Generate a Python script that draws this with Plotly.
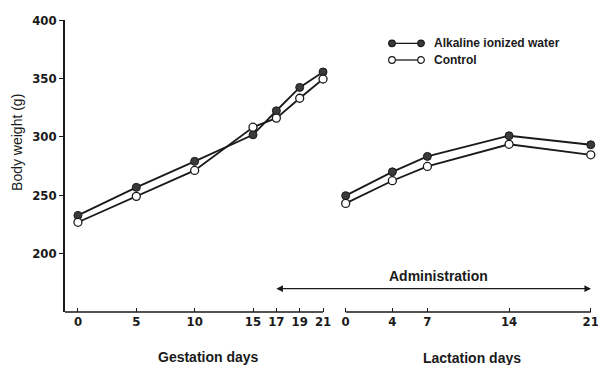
import plotly.graph_objects as go

# ---- data ----
gestation_days = [0, 5, 10, 15, 17, 19, 21]
lactation_days = [0, 4, 7, 14, 21]
alk_gest = [232.7, 256.7, 279.0, 301.7, 322.3, 342.3, 355.5]
ctrl_gest = [226.8, 249.0, 271.2, 308.2, 316.0, 333.0, 349.5]
alk_lact = [249.6, 270.0, 283.2, 300.9, 293.2]
ctrl_lact = [243.0, 262.4, 274.6, 293.6, 284.6]
y_ticks = [200, 250, 300, 350, 400]
series_names = ["Alkaline ionized water", "Control"]

# ---- layout constants ----
LACT_OFFSET = 22.94
X_RANGE = [-1.11, 44.56]
Y_RANGE = [150, 400]
INK = "#1a1a1a"
TICK_FONT = dict(family="DejaVu Sans Condensed, Liberation Sans Narrow, Arial", size=13,
                 color=INK, weight="bold")
TEXT_FONT = dict(family="Liberation Sans, Arial", size=14, color=INK, weight="bold")

lact_x = [d + LACT_OFFSET for d in lactation_days]

fig = go.Figure()

filled = dict(size=8, color="#3a3a3a", line=dict(color=INK, width=1))
opened = dict(size=8, color="white", line=dict(color=INK, width=1.3))
line_style = dict(color=INK, width=1.8)

for xs, ys, mk in [
    (gestation_days, alk_gest, filled),
    (lact_x, alk_lact, filled),
    (gestation_days, ctrl_gest, opened),
    (lact_x, ctrl_lact, opened),
]:
    fig.add_trace(go.Scatter(x=xs, y=ys, mode="lines+markers", line=line_style,
                             marker=mk, showlegend=False, hoverinfo="skip",
                             cliponaxis=False))

tickvals = list(gestation_days) + lact_x
ticktext = [str(d) for d in gestation_days] + [str(d) for d in lactation_days]

fig.update_layout(
    width=598, height=365,
    margin=dict(l=65, r=0, t=20, b=53),
    paper_bgcolor="white", plot_bgcolor="white",
    xaxis=dict(range=X_RANGE, showgrid=False, zeroline=False, showline=False,
               tickvals=tickvals, ticktext=ticktext, ticks="inside", ticklen=4,
               tickwidth=1.3, tickcolor=INK, tickfont=TICK_FONT,
               ticklabeloverflow="allow"),
    yaxis=dict(range=Y_RANGE, showgrid=False, zeroline=False, showline=True,
               linecolor=INK, linewidth=1.6, tickvals=y_ticks, ticks="outside",
               ticklen=4, tickwidth=1.3, tickcolor=INK, tickfont=TICK_FONT),
)

# broken x axis lines
fig.add_shape(type="line", xref="x", yref="paper", x0=X_RANGE[0], x1=gestation_days[-1],
              y0=0, y1=0, line=dict(color=INK, width=1.6))
fig.add_shape(type="line", xref="x", yref="paper", x0=lact_x[0], x1=lact_x[-1],
              y0=0, y1=0, line=dict(color=INK, width=1.6))

# administration arrow
fig.add_annotation(x=gestation_days[4], y=170, ax=lact_x[-1] + 0.15, ay=170,
                   xref="x", yref="y", axref="x", ayref="y", text="",
                   showarrow=True, arrowhead=2, arrowside="end+start",
                   arrowsize=1.2, arrowwidth=1.1, arrowcolor=INK)
fig.add_annotation(x=0.70, y=0.124, xref="paper", yref="paper", text="Administration",
                   showarrow=False, font=TEXT_FONT, xanchor="center", yanchor="middle")

# axis titles
fig.add_annotation(x=0.27, y=-0.153, xref="paper", yref="paper", text="Gestation days",
                   showarrow=False, font=TEXT_FONT, xanchor="center", yanchor="middle")
fig.add_annotation(x=0.763, y=-0.158, xref="paper", yref="paper", text="Lactation days",
                   showarrow=False, font=TEXT_FONT, xanchor="center", yanchor="middle")
fig.add_annotation(x=-0.09, y=0.579, xref="paper", yref="paper", text="Body weight (g)",
                   showarrow=False, font=dict(family="Liberation Sans, Arial", size=14, color=INK),
                   textangle=-90, xanchor="center", yanchor="middle")

# manual legend
leg_rows = [0.920, 0.863]
leg_x0, leg_x1, leg_tx = 0.6135, 0.668, 0.688
for name, yrow, fillc in zip(series_names, leg_rows, ["#3a3a3a", "white"]):
    fig.add_shape(type="line", xref="paper", yref="paper", x0=leg_x0, x1=leg_x1,
                  y0=yrow, y1=yrow, line=dict(color=INK, width=1.3))
    for xc in (leg_x0, leg_x1):
        fig.add_shape(type="circle", xref="paper", yref="paper", xsizemode="pixel",
                      ysizemode="pixel", xanchor=xc, yanchor=yrow, x0=-3.3, x1=3.3,
                      y0=-3.3, y1=3.3, fillcolor=fillc, line=dict(color=INK, width=1.2))
    fig.add_annotation(x=leg_tx, y=yrow, xref="paper", yref="paper", text=name,
                       showarrow=False,
                       font=dict(family="Liberation Sans, Arial", size=12, color=INK, weight="bold"),
                       xanchor="left", yanchor="middle")

fig.write_html("out.html", config={"displayModeBar": False},
               post_script="document.body.style.margin='0';")
